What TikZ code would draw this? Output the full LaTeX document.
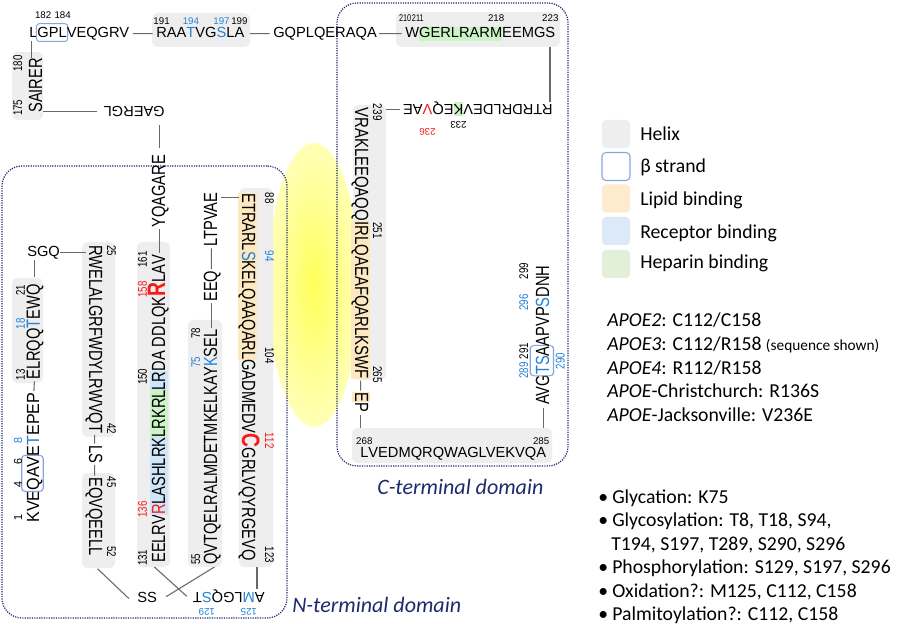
\documentclass[tikz,border=0pt]{standalone}
\usepackage{fontspec}
\usepackage{graphicx}
\setmainfont{Liberation Sans}
\newfontfamily\lgfont{Carlito}
\usetikzlibrary{calc,fit}

\definecolor{helixgray}{RGB}{238,238,238}
\definecolor{lipid}{RGB}{253,232,193}
\definecolor{recep}{RGB}{208,229,248}
\definecolor{hepar}{RGB}{204,243,198}
\definecolor{lglipid}{RGB}{253,235,206}
\definecolor{lgrecep}{RGB}{220,233,246}
\definecolor{lghepar}{RGB}{226,240,218}
\definecolor{strandc}{RGB}{135,165,220}
\definecolor{bl}{RGB}{35,130,215}
\definecolor{rd}{RGB}{250,25,25}
\definecolor{navy}{RGB}{30,42,110}
\definecolor{conncol}{RGB}{105,105,105}
\definecolor{glowc}{RGB}{255,255,90}
\definecolor{glowmid}{RGB}{255,255,165}
\definecolor{glowout}{RGB}{255,255,225}
\pgfdeclareradialshading{glow}{\pgfpointorigin}{color(0bp)=(glowc); color(20bp)=(glowmid); color(38bp)=(glowout); color(50bp)=(white)}

\newlength\labraise
\newbox\annbox
\newbox\strbox
\newcommand\labfont{\fontsize{7.3}{8}\selectfont}
\newcommand\hlstrut{\rule[-2pt]{0pt}{10.5pt}}
\NewDocumentCommand\ann{O{0} O{\labraise} m m m}{%
  \setbox\annbox\hbox{#5}%
  \rlap{\hbox to\wd\annbox{\hss\kern#1pt\raisebox{#2}[0pt][0pt]{\makebox[0pt]{\color{#3}\labfont #4}}\kern-#1pt\hss}}%
  \box\annbox}
\newcommand\hl[2]{{\setlength\fboxsep{0pt}\colorbox{#1}{\hlstrut#2}}}
\newcommand\bl[1]{\textcolor{bl}{#1}}
\newcommand\rdc[1]{\textcolor{rd}{#1}}
\newcommand\bigres[1]{\textcolor{rd}{\smash{\fontsize{14.5}{14.5}\selectfont\bfseries #1}}}
\newcommand\strand[1]{\setbox\strbox\hbox{#1}\edef\strwd{\the\wd\strbox}%
  \rlap{\tikz[overlay]\draw[draw=strandc,line width=0.75pt,rounded corners=2.2pt] (-0.7pt,-2.6pt) rectangle (\strwd+0.7pt,10.8pt);}\box\strbox}
\newcommand\bitem{\makebox[10.5pt][l]{•}}

\begin{document}
\begin{tikzpicture}[x=0.75pt,y=-0.75pt,
  seq/.style={inner sep=0pt, font=\fontsize{11}{13}\selectfont, execute at begin node=\hlstrut},
  up/.style={seq, rotate=90, yscale=1.3, anchor=base west},
  down/.style={seq, rotate=-90, yscale=1.3, anchor=base west},
  helix/.style={fill=helixgray, draw=none, rounded corners=4pt, inner sep=0pt},
  conn/.style={draw=conncol, line width=0.8pt},
  dom/.style={draw=navy, line width=0.9pt, dash pattern=on 0.9pt off 0.9pt, rounded corners=15pt, inner sep=0pt},
  domlabel/.style={inner sep=0pt, text=navy, font=\lgfont\itshape\fontsize{16.5}{18}\selectfont},
  lgtext/.style={inner sep=0pt, font=\lgfont\fontsize{14.8}{17}\selectfont},
  swatch/.style={minimum width=21pt, minimum height=21pt, rounded corners=3pt, inner sep=0pt}]

\useasboundingbox (0,0) rectangle (897,624);
\fill[white] (0,0) rectangle (897,624);

% yellow glow
\shade[shading=glow] (314,285) ellipse (46 and 142);

% domain boxes
\node[dom, fit={(2,166) (287,618)}] (nbox) {};
\node[dom, fit={(337,3) (568,466)}] (cbox) {};
\node[domlabel, anchor=base west] (nlab) at (292,612) {N-terminal domain};
\node[domlabel, anchor=base west] (clab) at (377,494) {C-terminal domain};

% helix boxes
\node[helix, fit={(12,52) (43,120)}] (hb1) {};
\node[helix, fit={(152,13) (250,47)}] (hb2) {};
\node[helix, fit={(396,12) (560,47)}] (hb4) {};
\node[helix, fit={(12,278) (43,383)}] (hb8) {};
\node[helix, fit={(82,242) (115,437)}] (hb9) {};
\node[helix, fit={(82,473) (115,568)}] (hb11) {};
\node[helix, fit={(137,242) (170,567)}] (hb3) {};
\node[helix, fit={(188,320) (222,567)}] (hb6) {};
\node[helix, fit={(239,188) (273,567)}] (hb12) {};
\node[helix, fit={(353,105) (386,380)}] (hb13) {};
\node[helix, fit={(352,428) (552,463)}] (hb10) {};

% horizontal sequences
\node[seq, anchor=base west] (H1) at (29,38) {\setlength\labraise{14.25pt}L\strand{\ann{black}{182}{G}P\ann{black}{184}{L}}VEQGRV};
\node[seq, anchor=base west] (H2) at (156,38) {\setlength\labraise{9.75pt}\ann{black}{191}{R}AA\ann{bl}{194}{\bl{T}}VG\ann{bl}{197}{\bl{S}}L\ann{black}{199}{A}};
\node[seq, anchor=base west] (H3) at (273,38) {GQPLQERAQA};
\node[seq, anchor=base west] (H4) at (405,38) {\setlength\labraise{12pt}\ann[-5.25]{black}{\scalebox{0.75}[1]{210}}{W}\hl{hepar}{\ann[-5.25]{black}{\scalebox{0.75}[1]{211}}{G}ERLRAR\ann{black}{218}{M}}EEMG\ann{black}{223}{S}};
\node[seq, rotate=180, anchor=base west] (H5) at (553,105) {\setlength\labraise{12.75pt}RTRDRLDEV\ann{black}{233}{\hl{hepar}{K}}EQ\ann[0][18pt]{rd}{236}{\rdc{V}}AE};
\node[seq, rotate=180, anchor=base west] (H6) at (265,592) {\setlength\labraise{12pt}A\ann{bl}{125}{\bl{M}}LGQ\ann{bl}{129}{\bl{S}}T};
\node[seq, rotate=180, anchor=base west] (H7) at (165,107) {GAERGL};
\node[seq, anchor=base west] (H8) at (27,257) {SGQ};
\node[seq, anchor=base west] (H9) at (137,602) {SS};
\node[seq, anchor=base west] (H10) at (360,457) {\setlength\labraise{9.75pt}\ann{black}{268}{L}VEDMQRQWAGLVEKVQ\ann{black}{285}{A}};

% vertical sequences
\node[up] (V1) at (42,113) {\setlength\labraise{11.5pt}\ann{black}{175}{S}AIRE\ann{black}{180}{R}};
\node[up] (V2) at (165,228) {YQAGARE};
\node[up] (V3) at (165,563) {\setlength\labraise{10.4pt}\ann{black}{131}{E}ELRV\hl{recep}{\ann{rd}{136}{\rdc{R}}LASHLRK}\hl{hepar}{LRKRL}\hl{recep}{L\ann{black}{150}{R}}DA DDLQK\ann{rd}{158}{\bigres{R}}LA\ann{black}{161}{V}};
\node[up] (V4) at (217,302) {EEQ};
\node[up] (V5) at (217,247) {LTPVAE};
\node[up] (V6) at (217,565) {\setlength\labraise{9.8pt}\ann{black}{55}{Q}VTQELRALMDETMKELKAY\ann{bl}{75}{\bl{K}}SE\ann{black}{78}{L}};
\node[seq, rotate=90, xscale=1.1, yscale=1.2, anchor=base west] (V7) at (39,523) {\setlength\labraise{10.5pt}\ann{black}{1}{K}VE\strand{\ann{black}{4}{Q}A\ann{black}{6}{V}}E\ann{bl}{8}{\bl{T}}EPEP};
\node[up] (V8) at (40,380) {\setlength\labraise{8.7pt}\ann{black}{13}{E}LRQQ\ann{bl}{18}{\bl{T}}EW\ann{black}{21}{Q}};
\node[down] (V9) at (89,245) {\setlength\labraise{10.4pt}\ann{black}{25}{R}WELALGRFWDYLRWVQ\ann{black}{42}{T}};
\node[down] (V10) at (89,445) {LS};
\node[down] (V11) at (89,477) {\setlength\labraise{10.4pt}\ann{black}{45}{E}QVQEEL\ann{black}{52}{L}};
\node[down] (V12) at (242,193) {\setlength\labraise{13.3pt}\hl{lipid}{\ann{black}{88}{E}TRARL\ann{bl}{94}{\bl{S}}KELQAAQAR\ann{black}{104}{L}}GADMEDV\ann{rd}{112}{\bigres{C}}GRLVQYRGEV\ann{black}{123}{Q}};
\node[seq, rotate=-90, xscale=1.02, yscale=1.3, anchor=base west] (V13) at (355,107) {\setlength\labraise{10.4pt}\ann{black}{239}{V}RAKLEEQAQQ\hl{lipid}{I\ann{black}{251}{R}LQAEAFQARLKSW\ann{black}{265}{F}}};
\node[down] (V14) at (355,392) {\hl{lipid}{E}P};
\node[up] (V15) at (549,405) {\setlength\labraise{12pt}AVG\strand{\ann{bl}{289}{\bl{T}}\ann[0][-9pt]{bl}{290}{\bl{S}}\ann{black}{291}{A}}APVP\ann{bl}{296}{\bl{S}}DN\ann{black}{299}{H}};

% connectors: top row and C-terminal
\draw[conn, shorten <=2.5pt, shorten >=2.5pt] (H1.east) -- (H2.west);
\draw[conn, shorten <=4pt, shorten >=2.5pt] (H2.east) -- (H3.west);
\draw[conn, shorten <=1.5pt, shorten >=2.5pt] (H3.east) -- (H4.west);
\coordinate (c4) at ($(H5.south west)+(-3,0)$);
\draw[conn] (c4) -- (c4 |- hb4.south);
\draw[conn, shorten <=2pt] (H5.east) -- (H5.east -| hb13.east);
\draw[conn, shorten <=1pt, shorten >=1pt] (V13.east) -- (V14.west);
\draw[conn, shorten <=2pt] (V14.east) -- (V14.east |- hb10.north);
\draw[conn, shorten <=2pt] (V15.west) -- (V15.west |- hb10.north);

% connectors: N-terminal part
\coordinate (c10) at ($(H1.south west)+(2.5,0)$);
\draw[conn] (c10) -- (c10 |- V1.east);
\draw[conn, shorten >=5pt] (H7.east -| hb1.east) -- (H7.east);
\draw[conn, shorten <=5pt, shorten >=5pt] (V2.east |- H7.north west) -- (V2.east);
\draw[conn, shorten <=1pt, shorten >=1pt] (V2.west) -- (V3.east);
\draw[conn] ($(V3.west)+(-5,4)$) -- ($(H6.east)+(-6,0)$);
\draw[conn] ($(V11.east)+(3,13)$) -- ($(H9.west)+(-8,1)$);
\draw[conn] ($(H9.east)+(9,-1)$) -- ($(V6.west)+(3,2)$);
\coordinate (c17) at ($(H6.south west)+(-8,0)$);
\draw[conn] (c17) -- (c17 |- hb12.south);
\coordinate (c18) at ($(V5.east)+(0,5)$);
\draw[conn] (c18 -| V5.south east) -- (c18 -| hb12.west);
\draw[conn, shorten <=1pt, shorten >=1pt] (V5.west) -- (V4.east);
\draw[conn, shorten <=1pt, shorten >=1pt] (V4.west) -- (V6.east);
\draw[conn, shorten >=-1pt] (H8.east) -- (H8.east -| V9.south west);
\draw[conn, shorten >=5pt] (H8.south west -| V8.east) -- (V8.east);
\draw[conn, shorten <=1pt, shorten >=1pt] (V8.west) -- (V7.east);
\draw[conn, shorten <=1pt, shorten >=1pt] (V9.east) -- (V10.west);
\draw[conn, shorten <=1pt, shorten >=1pt] (V10.east) -- (V11.west);

% legend
\node[swatch, fill=helixgray] (sw1) at (616,134) {};
\node[swatch, fill=white, draw=strandc, line width=0.8pt] (sw2) at (616,166.5) {};
\node[swatch, fill=lglipid] (sw3) at (616,198.5) {};
\node[swatch, fill=lgrecep] (sw4) at (616,231) {};
\node[swatch, fill=lghepar] (sw5) at (616,264) {};
\node[lgtext, anchor=base west] (lt1) at (640,140.5) {Helix};
\node[lgtext, anchor=base west] (lt2) at (640,173) {β strand};
\node[lgtext, anchor=base west] (lt3) at (640,206) {Lipid binding};
\node[lgtext, anchor=base west] (lt4) at (640,239) {Receptor binding};
\node[lgtext, anchor=base west] (lt5) at (640,269) {Heparin binding};

\node[lgtext, anchor=base west] (va1) at (607,326) {\textit{APOE2}: C112/C158};
\node[lgtext, anchor=base west] (va2) at (607,350) {\textit{APOE3}: C112/R158 {\fontsize{11.5}{13}\selectfont(sequence shown)}};
\node[lgtext, anchor=base west] (va3) at (607,374) {\textit{APOE4}: R112/R158};
\node[lgtext, anchor=base west] (va4) at (607,397.5) {\textit{APOE}-Christchurch: R136S};
\node[lgtext, anchor=base west] (va5) at (607,421) {\textit{APOE}-Jacksonville: V236E};

\node[lgtext, anchor=base west] (pt1) at (598,503) {\bitem Glycation: K75};
\node[lgtext, anchor=base west] (pt2) at (598,526.5) {\bitem Glycosylation: T8, T18, S94,};
\node[lgtext, anchor=base west] (pt3) at (611,550) {T194, S197, T289, S290, S296};
\node[lgtext, anchor=base west] (pt4) at (598,573.5) {\bitem Phosphorylation: S129, S197, S296};
\node[lgtext, anchor=base west] (pt5) at (598,597) {\bitem Oxidation?: M125, C112, C158};
\node[lgtext, anchor=base west] (pt6) at (598,620.5) {\bitem Palmitoylation?: C112, C158};
\end{tikzpicture}
\end{document}
